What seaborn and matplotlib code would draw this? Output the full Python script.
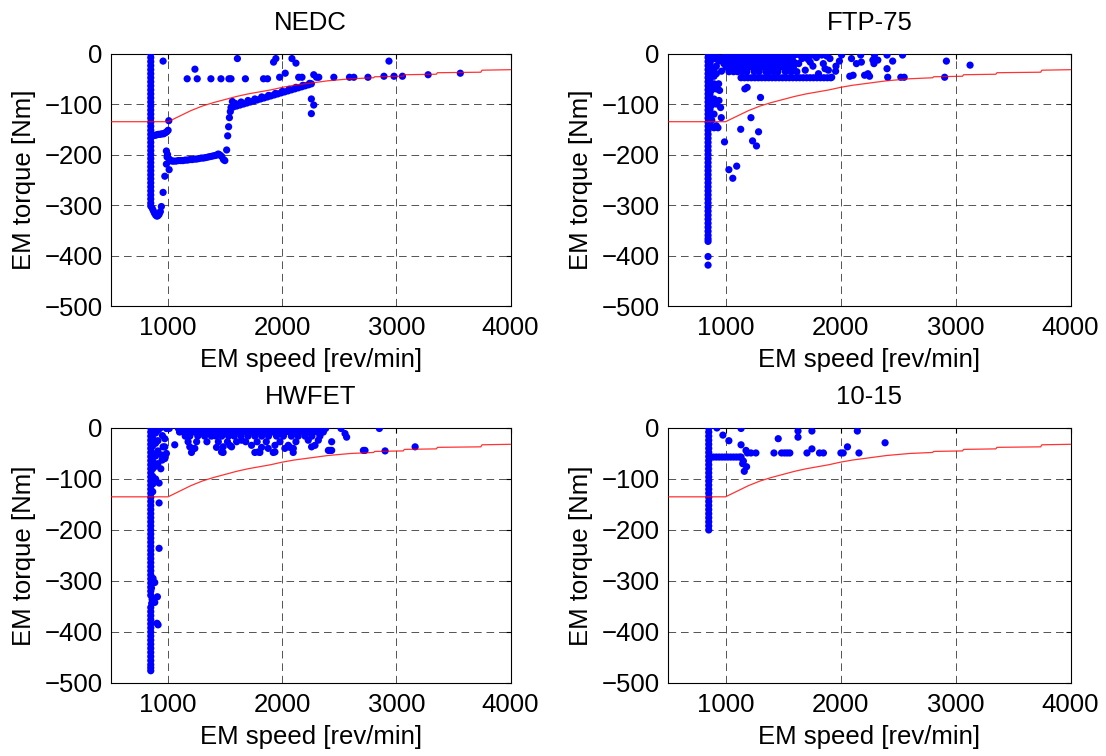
import matplotlib
matplotlib.use("Agg")
import matplotlib.pyplot as plt
import seaborn as sns
import pandas as pd

# ---------------- data ----------------
titles = ["NEDC", "FTP-75", "HWFET", "10-15"]
x_ticks = [1000, 2000, 3000, 4000]
y_ticks = [0, -100, -200, -300, -400, -500]

# torque limit curve (red)
limit_speed = [500, 1000, 1100, 1200, 1300, 1400, 1500, 1600, 1700, 1800, 1900, 2000, 2100, 2200,
               2300, 2400, 2500, 2600, 2700, 2800, 2810, 3060, 3070, 3350, 3360, 3740, 3750, 4000]
limit_torque = [-135, -135, -124, -113, -104, -97, -91, -85, -80, -76, -72, -67, -63, -60,
                -57, -54, -52, -50, -49, -48, -46, -45, -42, -41, -38, -37, -33, -32]

# ---- NEDC ----
nedc_idle_speed = 848
nedc_idle_torque = [0, -8, -16, -24, -32, -40, -48, -56, -64, -72, -80, -88, -96, -104, -112, -120,
                    -128, -136, -144, -152, -160, -168, -176, -184, -192, -200, -208, -216, -224,
                    -232, -240, -248, -256, -264, -272, -280, -288, -296, -302]
nedc_points = [
    (860, -306), (870, -311), (880, -316), (891, -320), (902, -322), (912, -321), (922, -318),
    (932, -313), (941, -303), (956, -275), (971, -243), (985, -219), (1009, -230), (991, -205),
    (985, -193), (995, -200),
    (856, -163), (870, -162), (885, -162), (900, -161), (915, -160), (930, -160), (945, -159),
    (960, -159), (975, -157), (988, -155), (1000, -152), (1006, -133), (956, -15),
    (1010, -209), (1020, -212), (1035, -213), (1050, -213), (1070, -213), (1090, -212), (1110, -212),
    (1130, -212), (1150, -211), (1170, -211), (1190, -210), (1210, -210), (1230, -209), (1250, -209),
    (1270, -208), (1290, -207), (1310, -207), (1330, -206), (1350, -205), (1370, -204), (1390, -203),
    (1410, -202), (1425, -201), (1440, -199), (1455, -201), (1470, -204), (1485, -210), (1497, -212),
    (1513, -191), (1522, -163), (1530, -145), (1537, -127), (1545, -115), (1551, -107), (1563, -95),
    (1570, -106), (1600, -104), (1630, -102), (1660, -100), (1690, -98), (1720, -96), (1750, -94),
    (1780, -92), (1810, -90), (1840, -88), (1870, -86), (1900, -84), (1930, -82), (1960, -80),
    (1990, -78), (2020, -76), (2050, -74), (2080, -72), (2110, -70), (2140, -68), (2170, -66),
    (2200, -64), (2230, -62), (2255, -60),
    (1590, -99), (1640, -96), (1700, -93), (1760, -90), (1820, -86), (1880, -83), (1940, -79),
    (2000, -75), (2060, -71), (2120, -67), (2180, -63), (2240, -59),
    (2255, -90), (2276, -102), (2255, -119), (2276, -42), (2300, -47),
    (1167, -50), (1255, -50), (1375, -50), (1463, -50), (1533, -50), (1551, -50), (1677, -50),
    (1836, -50), (1871, -50), (1977, -47), (2144, -47), (2173, -47), (2320, -47), (2452, -47),
    (2589, -47), (2627, -47), (2751, -47), (2891, -45), (2979, -45), (3053, -45), (3278, -42),
    (3560, -39),
    (1235, -31), (1607, -10), (1924, -17), (1944, -10), (2026, -39), (2085, -10), (2120, -19),
    (2935, -15),
]

# ---- FTP-75 ----
ftp_idle_speed = 848
ftp_idle_torque = [0, -8, -16, -24, -32, -40, -48, -56, -64, -72, -80, -88, -96, -104, -112, -120,
                   -128, -136, -144, -152, -160, -168, -176, -184, -192, -200, -208, -216, -224,
                   -232, -240, -248, -256, -264, -272, -280, -288, -296, -304, -312, -320, -328,
                   -336, -344, -352, -360, -367, -372, -402, -419]
ftp_points = [
    (865, -5), (865, -20), (865, -35), (865, -50), (865, -65), (865, -80), (865, -95), (865, -110),
    (865, -125), (865, -140), (880, -12), (880, -42), (880, -72), (880, -102), (880, -132),
    (900, -10), (900, -30), (900, -45), (900, -60), (900, -90), (900, -120),
    (900, -147), (920, -5), (920, -25), (920, -40), (920, -70), (920, -100), (920, -143),
    (940, -15), (940, -60), (943, -93), (948, -73), (934, -147), (960, -10), (957, -107),
    (963, -127), (965, -35), (985, -20), (990, -5),
    (1010, -2), (1040, -2), (1070, -2), (1100, -2), (1130, -2), (1160, -2), (1190, -2), (1220, -2),
    (1250, -2), (1280, -2), (1310, -2), (1340, -2), (1370, -2), (1400, -2), (1430, -2), (1460, -2),
    (1490, -2), (1520, -2), (1550, -2), (1580, -2), (1610, -2), (1640, -2),
    (1000, -10), (1035, -10), (1065, -10), (1095, -10), (1125, -10), (1150, -10), (1185, -10),
    (1215, -10), (1245, -10), (1270, -10), (1300, -10), (1335, -10), (1365, -10), (1395, -10),
    (1420, -10), (1455, -10), (1485, -10), (1515, -10), (1545, -10), (1580, -10),
    (1020, -18), (1050, -18), (1080, -18), (1115, -18), (1140, -18), (1175, -18), (1205, -18),
    (1240, -18), (1275, -18), (1310, -18), (1345, -18), (1375, -18), (1410, -18), (1445, -18),
    (1480, -18), (1510, -18), (1560, -18), (1600, -18),
    (1005, -27), (1045, -27), (1090, -27), (1120, -27), (1160, -27), (1200, -27), (1230, -27),
    (1265, -27), (1300, -27), (1330, -27), (1360, -27), (1395, -27), (1430, -27), (1470, -27),
    (1500, -27), (1540, -27), (1590, -27),
    (1030, -36), (1070, -36), (1105, -36), (1145, -36), (1185, -36), (1250, -36), (1290, -36),
    (1350, -36), (1380, -36), (1420, -36), (1455, -36), (1520, -36), (1570, -36), (1620, -36),
    (1135, -48), (1165, -48), (1195, -48), (1225, -48), (1255, -48), (1285, -48), (1315, -48),
    (1345, -48), (1375, -48), (1405, -48), (1435, -48), (1465, -48), (1495, -48), (1525, -48),
    (1555, -48), (1585, -48), (1615, -48), (1645, -48), (1675, -48), (1705, -48), (1735, -48),
    (1765, -48), (1795, -48), (1825, -48), (1855, -48), (1885, -48), (1915, -48),
    (1665, -10), (1636, -20), (1693, -33), (1736, -3), (1736, -17), (1751, -3), (1808, -40),
    (1837, -3), (1865, -30), (1894, -33), (1908, -10), (1923, -47), (1957, -35), (2009, -3),
    (2080, -45), (2095, -10), (2109, -43), (2138, -20), (2175, -3), (2181, -17), (2209, -43),
    (2238, -40), (2252, -45), (2281, -13), (2290, -20), (2295, -3), (2324, -13), (2404, -30),
    (2410, -47), (2404, -3), (2453, -15), (2524, -47), (2553, -47), (2539, -3), (2920, -15),
    (2905, -47), (3126, -23),
    (1680, -5), (1720, -12), (1760, -25), (1790, -8), (1850, -20), (1880, -5), (1960, -25),
    (1990, -15),
    (991, -175), (1029, -230), (1063, -247), (1097, -223), (1132, -150), (1221, -127), (1235, -173),
    (1269, -183), (1287, -155), (1168, -70), (1188, -67), (1304, -87),
]

# ---- HWFET ----
hw_idle_speed = 848
hw_idle_torque = [0, -8, -16, -24, -32, -40, -48, -56, -64, -72, -80, -88, -96, -104, -112, -120,
                  -128, -136, -144, -152, -160, -168, -176, -184, -192, -200, -208, -216, -224,
                  -232, -240, -248, -256, -264, -272, -280, -288, -296, -304, -312, -320, -328,
                  -352, -360, -368, -376, -384, -392, -400, -408, -416, -424, -432, -440, -448,
                  -456, -464, -470, -476]
hw_points = [
    (865, -5), (865, -20), (865, -35), (865, -50), (865, -65), (865, -80), (865, -95), (865, -110),
    (865, -125), (890, -10), (890, -30), (890, -55), (890, -75), (890, -100), (910, -5), (910, -25),
    (910, -45), (910, -70), (927, -1), (936, -80), (947, -63), (971, -60), (956, -37), (971, -37),
    (985, -1), (971, -21), (985, -50), (942, -53), (950, -15),
    (921, -108), (921, -147), (921, -236), (883, -303), (868, -295), (854, -314), (906, -331),
    (883, -342), (903, -383), (912, -386), (860, -336), (856, -344), (1058, -33),
    (1010, -1), (1090, -1), (1120, -1), (1150, -1), (1180, -1), (1210, -1), (1240, -1), (1270, -1),
    (1300, -1), (1330, -1), (1360, -1), (1390, -1), (1420, -1), (1450, -1), (1480, -1), (1510, -1),
    (1540, -1), (1570, -1), (1600, -1), (1630, -1), (1660, -1), (1690, -1), (1720, -1), (1750, -1),
    (1780, -1), (1810, -1), (1840, -1), (1870, -1), (1900, -1), (1930, -1), (1960, -1), (1990, -1),
    (2020, -1), (2050, -1), (2080, -1), (2110, -1), (2140, -1), (2170, -1), (2200, -1), (2230, -1),
    (2260, -1), (2290, -1), (2320, -1), (2350, -1), (2380, -1), (2515, -1), (2851, -1),
    (1100, -8), (1135, -8), (1165, -8), (1200, -8), (1230, -8), (1265, -8), (1300, -8), (1335, -8),
    (1365, -8), (1400, -8), (1440, -8), (1475, -8), (1510, -8), (1545, -8), (1580, -8), (1615, -8),
    (1650, -8), (1690, -8), (1725, -8), (1760, -8), (1800, -8), (1840, -8), (1880, -8), (1915, -8),
    (1950, -8), (1990, -8), (2030, -8), (2070, -8), (2110, -8), (2150, -8), (2190, -8), (2230, -8),
    (2270, -8), (2310, -8), (2360, -8),
    (1150, -16), (1190, -16), (1260, -16), (1320, -16), (1380, -16), (1420, -16), (1470, -16),
    (1530, -16), (1580, -16), (1640, -16), (1700, -16), (1760, -16), (1820, -16), (1880, -16),
    (1950, -16), (2010, -16), (2080, -16), (2140, -16), (2200, -16), (2260, -16), (2330, -16),
    (2550, -11), (2564, -18),
    (1175, -27), (1250, -27), (1340, -27), (1440, -27), (1520, -27), (1600, -27), (1680, -27),
    (1780, -27), (1860, -27), (1980, -27), (2120, -27), (2228, -24), (2316, -24), (2433, -27),
    (1190, -37), (1219, -41), (1424, -38), (1482, -37), (1541, -34), (1556, -37), (1643, -24),
    (1731, -34), (1819, -38), (1936, -34), (2053, -34), (2067, -38), (2257, -37), (2287, -34),
    (3164, -37),
    (1205, -48), (1234, -40), (1468, -47), (1482, -48), (1760, -48), (1789, -47), (1804, -48),
    (1877, -40), (1921, -48), (1936, -47), (2023, -40), (2097, -40), (2096, -48), (2404, -44),
    (2418, -44), (2433, -44), (2711, -44), (2725, -44), (2901, -45),
]

# ---- 10-15 ----
j_idle_speed = 854
j_idle_torque = [0, -8, -16, -24, -32, -40, -48, -56, -64, -72, -80, -88, -96, -104, -112, -120,
                 -128, -136, -144, -152, -160, -168, -176, -184, -192, -200]
j_points = [
    (870, -57), (895, -57), (920, -57), (945, -57), (970, -57), (995, -57), (1020, -57),
    (1045, -57), (1070, -57), (1095, -57), (1120, -57), (1135, -57),
    (925, 0), (977, -14), (1029, -25), (1135, -1), (1135, -33), (1178, -44), (1190, -49),
    (1221, -49), (1264, -49), (1149, -70), (1183, -76), (1163, -85), (1155, -65), (1421, -49),
    (1458, -21), (1487, -49), (1513, -49), (1536, -49), (1559, -49), (1630, -6), (1630, -18),
    (1708, -49), (1751, -6), (1751, -41), (1817, -49), (1851, -49), (2003, -49), (2023, -49),
    (2060, -37), (2146, -6), (2160, -49), (2387, -29),
]

# ---------------- style ----------------
FS = 18.5
sns.set_theme(style="white")
plt.rcParams.update({
    "font.family": ["Liberation Sans", "DejaVu Sans"],
    "font.size": FS,
    "text.color": "black",
    "axes.labelcolor": "black",
    "axes.titlecolor": "black",
    "axes.edgecolor": "black",
    "axes.linewidth": 0.8,
    "xtick.direction": "in",
    "ytick.direction": "in",
    "xtick.top": True,
    "ytick.right": True,
    "xtick.major.size": 3.5,
    "ytick.major.size": 3.5,
    "xtick.major.width": 0.8,
    "ytick.major.width": 0.8,
    "xtick.color": "black",
    "ytick.color": "black",
    "xtick.labelcolor": "black",
    "ytick.labelcolor": "black",
    "xtick.labelsize": FS,
    "ytick.labelsize": FS,
    "xtick.major.pad": 7,
    "ytick.major.pad": 6,
    "lines.scale_dashes": False,
})

fig = plt.figure(figsize=(11.06, 7.56), dpi=100)
positions = [
    [0.1004, 0.5952, 0.3612, 0.3340],
    [0.6040, 0.5952, 0.3640, 0.3340],
    [0.1004, 0.0966, 0.3612, 0.3373],
    [0.6040, 0.0966, 0.3640, 0.3373],
]
cycles = [
    (nedc_idle_speed, nedc_idle_torque, nedc_points),
    (ftp_idle_speed, ftp_idle_torque, ftp_points),
    (hw_idle_speed, hw_idle_torque, hw_points),
    (j_idle_speed, j_idle_torque, j_points),
]
limit_df = pd.DataFrame({"speed": limit_speed, "torque": limit_torque})

for pos, title, (idle_speed, idle_torque, pts) in zip(positions, titles, cycles):
    ax = fig.add_axes(pos)
    df = pd.DataFrame(
        [(idle_speed, t) for t in idle_torque] + list(pts),
        columns=["speed", "torque"],
    )
    sns.scatterplot(data=df, x="speed", y="torque", ax=ax, color="#0000ff",
                    s=27, edgecolor="none", linewidth=0, zorder=3)
    sns.lineplot(data=limit_df, x="speed", y="torque", ax=ax, color="#ff0000",
                 linewidth=0.9, alpha=0.8, zorder=4, sort=False, estimator=None)
    ax.set_xlim(500, 4000)
    ax.set_ylim(-500, 0)
    ax.set_xticks(x_ticks)
    ax.set_yticks(y_ticks)
    ax.grid(True, color="#222222", linestyle=(0, (5.5, 3.5)), linewidth=0.6, alpha=0.9)
    ax.set_axisbelow(True)
    ax.set_title(title, fontsize=FS, pad=17, color="black")
    ax.set_xlabel("EM speed [rev/min]", fontsize=FS, labelpad=6, color="black")
    ax.set_ylabel("EM torque [Nm]", fontsize=FS, labelpad=6, color="black")
    for sp in ax.spines.values():
        sp.set_visible(True)
        sp.set_color("black")
        sp.set_linewidth(0.8)

fig.savefig("out.png", dpi=100)
